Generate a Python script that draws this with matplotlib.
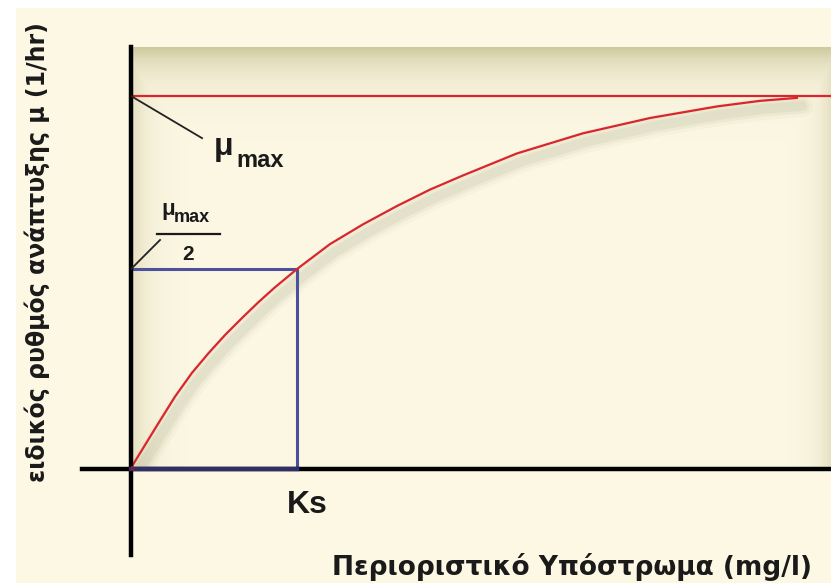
import numpy as np
import matplotlib.pyplot as plt
from matplotlib.patches import Rectangle
from matplotlib import transforms

# substrate concentration (in units of Ks) and specific growth rate (in units of mu_max)
substrate = [0.0, 0.004, 0.164, 0.265, 0.366, 0.466, 0.566, 0.667, 0.767, 0.867,
             1.0, 1.199, 1.398, 1.602, 1.801, 2.0, 2.325, 2.723, 3.127, 3.530,
             3.789, 4.012]
growth_rate = [0.0, 0.006, 0.122, 0.194, 0.257, 0.310, 0.359, 0.404, 0.447, 0.487,
               0.536, 0.603, 0.656, 0.705, 0.749, 0.787, 0.846, 0.900, 0.941, 0.972,
               0.987, 0.995]
mu_max = 1.0
ks = 1.0
half_rate = 0.536

xlabel = "Περιοριστικό Υπόστρωμα (mg/l)"
ylabel = "ειδικός ρυθμός ανάπτυξης μ (1/hr)"

W, H = 831, 583
x0, y0 = 131, 469          # origin in pixels
sx, sy = 166.0, 373.0      # pixels per unit
top = 47

cream = np.array([253, 248, 228]) / 255
olive = np.array([206, 201, 158]) / 255
red = "#d8262c"
blue = "#4d509a"

bold = dict(family=["DejaVu Sans"], fontweight="bold", color="#1a1a1a")
sym = dict(family=["Liberation Sans", "DejaVu Sans"], fontweight="bold", color="#1a1a1a")

fig = plt.figure(figsize=(W / 100, H / 100), dpi=100, facecolor="white")
fig.patches.append(Rectangle((16 / W, 0), 1, 1 - 8 / H, transform=fig.transFigure,
                             facecolor=cream, edgecolor="none", zorder=-10))

ax = fig.add_axes([x0 / W, 1 - y0 / H, (W - x0) / W, (y0 - top) / H])
xmax = (W - x0) / sx
ymax = (y0 - top) / sy
ax.set_xlim(0, xmax)
ax.set_ylim(0, ymax)
ax.axis("off")

# shaded backdrop: darker along the top and side edges
rows, cols = y0 - top, W - x0
yy, xx = np.mgrid[0:rows, 0:cols]
t = np.maximum.reduce([np.exp(-yy / 24.0),
                       0.55 * np.exp(-xx / 18.0),
                       0.5 * np.exp(-(cols - 1 - xx) / 14.0)])
img = cream[None, None, :] * (1 - t[..., None]) + olive[None, None, :] * t[..., None]
ax.imshow(img, extent=[0, xmax, 0, ymax], aspect="auto", zorder=0, origin="upper")

# soft shadow under the curve
off = transforms.offset_copy(ax.transData, fig=fig, x=5, y=-8, units="dots")
for lw, a in [(16, 0.04), (11, 0.06), (7, 0.08)]:
    ax.plot(substrate, growth_rate, color="#6f7a55", lw=lw, alpha=a,
            solid_capstyle="round", solid_joinstyle="round", transform=off, zorder=1)

# mu_max asymptote and Monod curve
ax.plot([0, xmax], [mu_max, mu_max], color=red, lw=1.6, zorder=3)
ax.plot(substrate, growth_rate, color=red, lw=1.6, solid_joinstyle="round", zorder=4)

# Ks construction box
ax.plot([0, ks, ks], [half_rate, half_rate, 0], color=blue, lw=2.2, zorder=3)

# axes drawn as thick lines running past the origin
ax.plot([-49 / sx, xmax], [0, 0], color="black", lw=3.2, clip_on=False, zorder=5)
ax.plot([0, 0], [-(555 - y0) / sy, ymax], color="black", lw=3.2, clip_on=False, zorder=5)
ax.plot([0, ks], [0, 0], color="#2e2f66", lw=3.2, clip_on=False, zorder=6)
ax.plot([0], [0], "o", color="#8a1c2a", ms=4, zorder=7)

# mu_max label with leader
ax.plot([0, 0.428], [mu_max, 0.887], color="#222222", lw=1.3, zorder=5)
ax.text(0.50, 0.842, "μ", fontsize=23, ha="left", va="baseline", **sym)
ax.text(0.635, 0.810, "max", fontsize=17, ha="left", va="baseline", **sym)

# mu_max / 2 label with leader
ax.plot([0, 0.175], [half_rate, 0.614], color="#222222", lw=1.3, zorder=5)
ax.text(0.185, 0.682, "μ", fontsize=16, ha="left", va="baseline", **sym)
ax.text(0.255, 0.662, "max", fontsize=13, ha="left", va="baseline", **sym)
ax.plot([0.157, 0.536], [0.630, 0.630], color="#1a1a1a", lw=1.6, zorder=5)
ax.text(0.345, 0.560, "2", fontsize=15, ha="center", va="baseline", **sym)

# Ks tick label
ax.text(ks - 0.06, -0.118, "Ks", fontsize=23, ha="left", va="baseline",
        clip_on=False, **sym)

fig.text(812 / W, 1 - 575 / H, xlabel, fontsize=19, ha="right", va="baseline", **bold)
fig.text(37 / W, 1 - 252 / H, ylabel, fontsize=17, rotation=90, ha="center",
         va="center", **bold)

fig.savefig("out.png", dpi=100, facecolor="white")
